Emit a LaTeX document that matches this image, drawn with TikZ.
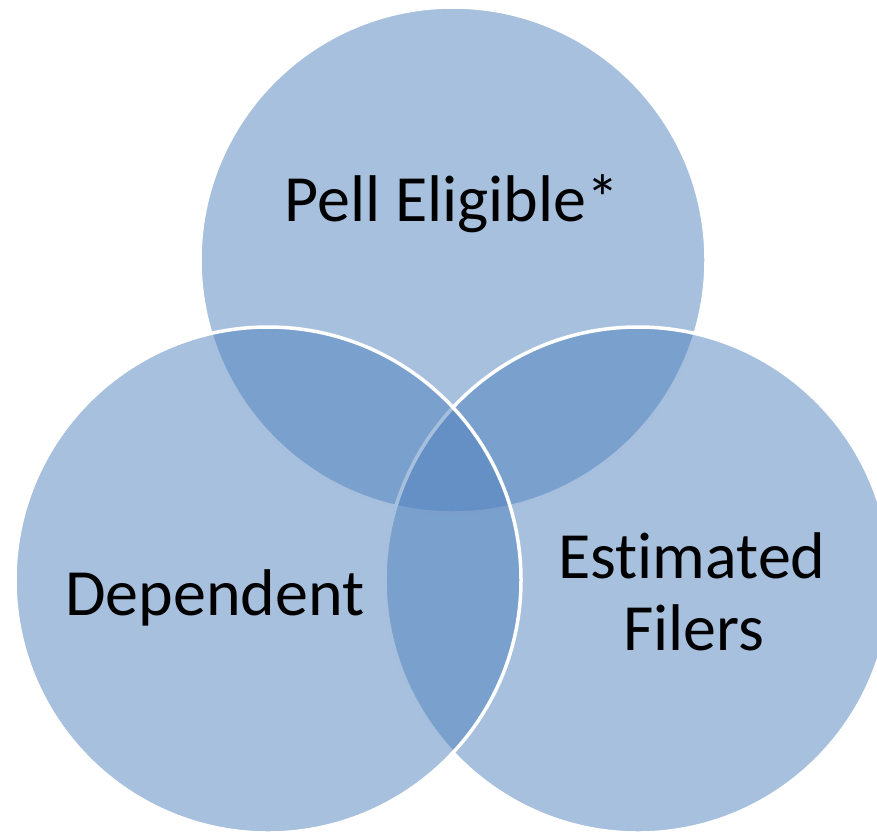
\documentclass[tikz,border=0pt]{standalone}
\usepackage{fontspec}
\setmainfont{Carlito}[Ligatures=NoCommon]
\definecolor{vennblue}{HTML}{4F81BD}
\begin{document}
\begin{tikzpicture}[x=1pt,y=-1pt,
  venn/.style={circle, minimum size=506pt, inner sep=0pt, fill=vennblue, fill opacity=0.5, draw=white, line width=3.5pt},
  lbl/.style={anchor=base, font=\fontsize{66}{73}\selectfont, text=black, align=center, inner sep=0pt}]
\clip (0,0) rectangle (877,833);
\useasboundingbox (0,0) rectangle (877,833);
\node[venn] (pell) at (453,260) {};
\node[venn] (filers) at (638,580) {};
\node[venn] (dep) at (268,580) {};
\node[lbl] (tpell) at (452,221) {Pell Eligible*};
\node[lbl] (tdep) at (215,615) {Dependent};
\node[lbl] (test) at (692,578) {Estimated};
\node[lbl] (tfil) at (694,650) {Filers};
\end{tikzpicture}
\end{document}
